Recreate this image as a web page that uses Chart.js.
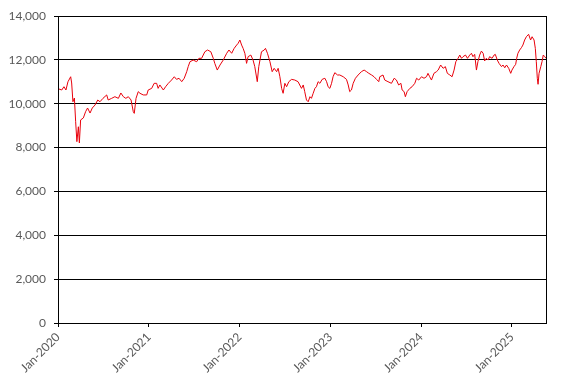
<!DOCTYPE html>
<html>
<head>
<meta charset="utf-8">
<script src="https://cdn.jsdelivr.net/npm/chart.js@4"></script>
<style>
  html, body { margin: 0; padding: 0; background: #fff; }
  #wrap { width: 574px; height: 387px; }
</style>
</head>
<body>
<div id="wrap"><canvas id="chart"></canvas></div>
<script>
// days since 1 Jan 2020
const days = [4, 15, 24, 32, 40, 51, 55, 60, 66, 71, 76, 82, 86, 91, 102, 111, 119, 129, 138, 149,
  160, 169, 181, 196, 202, 216, 229, 243, 253, 263, 273, 283, 294, 303, 307, 314, 323,
  330, 343, 357, 363, 377, 387, 397, 403, 410, 424, 433, 444, 457, 468, 477, 487, 498, 508,
  518, 524, 531, 544, 558, 567, 578, 591, 602, 615, 625, 631, 641, 652,
  665, 679, 688, 699, 709, 719, 725, 732, 739, 745, 752, 759, 765, 776, 785, 792, 802, 808,
  819, 830, 835, 843, 853, 862, 870, 880, 886, 893, 900, 906, 913, 920, 929, 940, 953, 966,
  980, 987, 993, 1000, 1007, 1014, 1020, 1027, 1034, 1040, 1047, 1054, 1063, 1074, 1081, 1087,
  1094, 1101, 1107, 1114, 1125, 1134, 1148, 1161, 1168, 1174, 1181, 1188, 1197, 1208, 1221,
  1232, 1242, 1251, 1262, 1272, 1282, 1291,
  1295, 1308, 1315, 1328, 1342, 1353, 1362, 1371, 1380, 1385, 1393, 1398, 1405, 1416, 1425,
  1436, 1443, 1452, 1463, 1473, 1483, 1489, 1496, 1503, 1513, 1523, 1530, 1540, 1550, 1559,
  1567, 1577, 1586, 1594, 1601,
  1610, 1617, 1624, 1630, 1640, 1648, 1657, 1664, 1670, 1677, 1684, 1690, 1697, 1704, 1711,
  1717, 1724, 1731, 1737, 1747, 1755, 1760, 1768, 1775, 1785, 1791, 1798, 1805, 1814, 1822,
  1827, 1835, 1842, 1846, 1851, 1858, 1865, 1871, 1878, 1885, 1894, 1902, 1908, 1916, 1921,
  1925, 1929, 1932, 1936, 1943, 1948, 1953, 1959, 1964];

const values = [10670, 10625, 10775, 10625, 11000, 11230, 10945, 10090, 10260, 9180, 8270, 8950, 8210, 9260, 9350, 9635, 9805, 9575, 9805, 9940,
  10170, 10090, 10245, 10400, 10170, 10245, 10320, 10245, 10490, 10320, 10245, 10320, 10170, 9635, 9560, 10245, 10550,
  10475, 10400, 10400, 10625, 10700, 10930, 10930, 10700, 10855, 10625, 10775, 10930, 11080, 11230, 11110, 11160, 11005, 11160,
  11460, 11690, 11915, 11990, 11915, 12070, 12070, 12370, 12450, 12370, 12070, 11840, 11535, 11765,
  11990, 12300, 12450, 12300, 12525, 12675, 12755, 12905, 12675, 12525, 12300, 11840, 12145, 12220, 11990, 11690, 11005, 11690,
  12370, 12450, 12525, 12300, 11915, 11460, 11615, 11460, 11615, 11230, 10700, 10475, 10930, 10775, 11005, 11110, 11080, 11005,
  10700, 10855, 10550, 10170, 10090, 10320, 10245, 10475, 10700, 10775, 11005, 10930, 11110, 11160, 11005, 10775,
  10700, 10930, 11230, 11415, 11310, 11310, 11230, 11110, 10855, 10550, 10625, 10930, 11160, 11310, 11460,
  11535, 11460, 11385, 11310, 11230, 11110, 11005,
  11230, 11310, 11080, 11005, 10930, 11160, 11080, 10855, 10930, 10625, 10550, 10320, 10550, 10700, 10775,
  10930, 11160, 11080, 11230, 11160, 11230, 11385, 11230, 11080, 11385, 11460, 11535, 11765, 11615, 11690,
  11385, 11310, 11230, 11535, 11915,
  12070, 12220, 12070, 12145, 12220, 12070, 12220, 12300, 12145, 12250, 11535, 11915, 12220, 12400, 12300,
  11950, 12070, 11990, 12145, 12070, 12220, 12250, 11990, 11840, 11690, 11765, 11640, 11765, 11615, 11385,
  11535, 11690, 11795, 12070, 12300, 12450, 12555, 12675, 12905, 13055, 13165, 12905, 13055, 12905, 12525,
  11915, 11160, 10885, 11385, 11690, 11915, 12220, 12145, 12070];

// x axis ticks: 1 Jan of each year
const tickDays = [0, 366, 731, 1096, 1461, 1827];
const tickLabels = ['Jan-2020', 'Jan-2021', 'Jan-2022', 'Jan-2023', 'Jan-2024', 'Jan-2025'];

const points = days.map((d, i) => ({ x: d, y: values[i] }));

const frame = {
    id: 'frame',
    afterDraw(chart) {
        const a = chart.chartArea;
        const c = chart.ctx;
        c.save();
        c.strokeStyle = '#000';
        c.lineWidth = 1;
        c.beginPath();
        c.moveTo(Math.round(a.right) + 0.5, a.top);
        c.lineTo(Math.round(a.right) + 0.5, a.bottom);
        c.stroke();
        c.restore();
    }
};

Chart.defaults.font.family = 'Lato, "Open Sans", sans-serif';
Chart.defaults.font.size = 12;
Chart.defaults.color = '#595959';

new Chart(document.getElementById('chart'), {
    type: 'line',
    data: {
        datasets: [{
            data: points,
            borderColor: '#e8000b',
            borderWidth: 1,
            pointRadius: 0,
            tension: 0,
            fill: false
        }]
    },
    options: {
        responsive: true,
        maintainAspectRatio: false,
        animation: false,
        layout: { padding: { top: 16, right: 28, left: 0, bottom: 0 } },
        plugins: { legend: { display: false }, tooltip: { enabled: false } },
        scales: {
            x: {
                type: 'linear',
                min: 0,
                max: 1964,
                afterBuildTicks: (scale) => { scale.ticks = tickDays.map(v => ({ value: v })); },
                afterFit: (scale) => { scale.height = 64; },
                ticks: {
                    autoSkip: false,
                    minRotation: 45,
                    maxRotation: 45,
                    padding: 3,
                    callback: (v) => tickLabels[tickDays.indexOf(v)]
                },
                grid: { drawOnChartArea: false, drawTicks: true, tickLength: 4, color: '#000' },
                border: { color: '#000', width: 1 }
            },
            y: {
                min: 0,
                max: 14000,
                afterFit: (scale) => { scale.width = 58; },
                ticks: {
                    stepSize: 2000,
                    padding: 8,
                    callback: (v) => v.toLocaleString('en-US')
                },
                grid: { color: '#000', lineWidth: 1, tickLength: 4 },
                border: { color: '#000', width: 1 }
            }
        }
    },
    plugins: [frame]
});
</script>
</body>
</html>
